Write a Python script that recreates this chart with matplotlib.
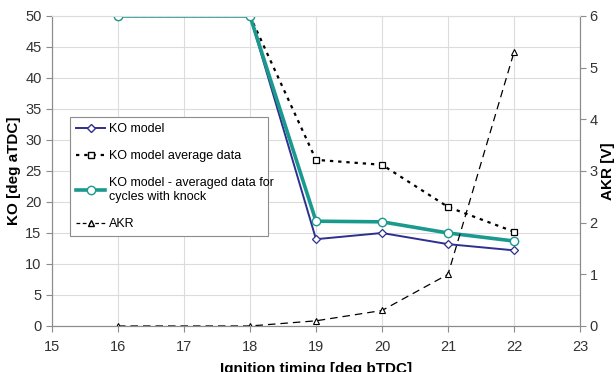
import matplotlib.pyplot as plt
from matplotlib.lines import Line2D

plt.rcParams["font.family"] = ["Liberation Sans", "DejaVu Sans"]

# ignition timing [deg bTDC]
timing = [16, 18, 19, 20, 21, 22]
# knock onset [deg aTDC]
ko_model = [50, 50, 14.0, 15.0, 13.2, 12.2]
ko_avg = [50, 50, 26.8, 26.0, 19.2, 15.2]
ko_knock = [50, 50, 16.9, 16.8, 15.0, 13.7]
# knock sensor amplitude [V]
akr = [0, 0, 0.1, 0.3, 1.0, 5.3]

NAVY = "#2e2f8f"
TEAL = "#1a9a8e"
GRID = "#dcdcdc"
SPINE = "#8c8c8c"

fig = plt.figure(figsize=(6.16, 3.72), dpi=100)
ax = fig.add_axes([0.0844, 0.1237, 0.8572, 0.8333])
ax2 = ax.twinx()

ax.plot(timing, ko_avg, color="black", lw=1.6, ls=(0, (1.5, 2.2)),
        marker="s", ms=5, mfc="white", mec="black", mew=0.9, zorder=3)
ax.plot(timing, ko_model, color=NAVY, lw=1.4, marker="D", ms=4,
        mfc="white", mec=NAVY, mew=0.9, zorder=4)
ax.plot(timing, ko_knock, color=TEAL, lw=2.6, marker="o", ms=6,
        mfc="white", mec=TEAL, mew=1.0, zorder=5)
ax2.plot(timing, akr, color="black", lw=0.9, ls=(0, (6, 4)),
         marker="^", ms=5, mfc="white", mec="black", mew=0.8)

ax.set_xlim(15, 23)
ax.set_ylim(0, 50)
ax2.set_ylim(0, 6)
ax.set_xticks(range(15, 24))
ax.set_yticks(range(0, 51, 5))
ax2.set_yticks(range(0, 7))
ax.grid(True, color=GRID, lw=0.8)
ax.set_axisbelow(True)

for a in (ax, ax2):
    for side in ("left", "right", "bottom", "top"):
        a.spines[side].set_color(SPINE)
    a.spines["top"].set_color(GRID)
    a.tick_params(colors="#333333", labelsize=10.5, length=4, color=SPINE)
ax.tick_params(axis="x", pad=6)
ax2.tick_params(axis="y", pad=3)

ax.set_ylabel("KO [deg aTDC]", fontsize=11, fontweight="bold", labelpad=3)
ax2.set_ylabel("AKR [V]", fontsize=11, fontweight="bold", labelpad=2)
ax.set_xlabel("Ignition timing [deg bTDC]", fontsize=11, fontweight="bold",
              labelpad=6)

handles = [
    Line2D([], [], color=NAVY, lw=1.4, marker="D", ms=4, mfc="white",
           mec=NAVY),
    Line2D([], [], color="black", lw=1.6, ls=(0, (1.5, 2.2)), marker="s",
           ms=5, mfc="white", mec="black"),
    Line2D([], [], color=TEAL, lw=2.6, marker="o", ms=6, mfc="white",
           mec=TEAL),
    Line2D([], [], color="black", lw=0.9, ls=(0, (3, 2)), marker="^", ms=5,
           mfc="white", mec="black"),
]
labels = ["KO model", "KO model average data",
          "KO model - averaged data for\ncycles with knock", "AKR"]
leg = ax.legend(handles, labels, loc="upper left",
                bbox_to_anchor=(0.034, 0.277, 0.375, 0.397),
                mode="expand", borderaxespad=0, fontsize=9,
                frameon=True, fancybox=False, edgecolor=SPINE, framealpha=1,
                labelspacing=1.2, handlelength=2.3, handletextpad=0.3,
                borderpad=0.5)
leg.get_frame().set_linewidth(0.8)
leg.set_zorder(10)

fig.savefig("out.png", dpi=100)
